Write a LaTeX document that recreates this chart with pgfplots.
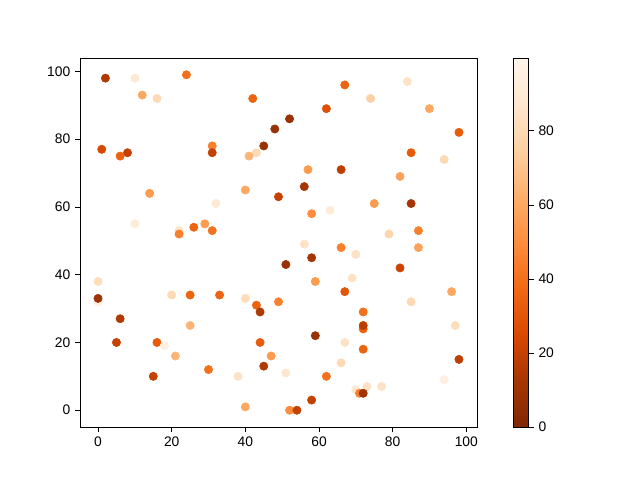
\documentclass[border=0pt]{standalone}
\usepackage{pgfplots}
\pgfplotsset{compat=1.18}
\usepackage{fontspec}
\setmainfont{Liberation Sans}
\pgfplotsset{
  colormap={orangesr}{rgb255=(127,39,4) rgb255=(166,54,3) rgb255=(217,72,1) rgb255=(241,105,19) rgb255=(253,141,60) rgb255=(253,174,107) rgb255=(253,208,162) rgb255=(254,230,206) rgb255=(255,245,235)}
}
\begin{document}
\begin{tikzpicture}
\path[use as bounding box] (0,0) rectangle (6.4in,4.8in);
\begin{axis}[
  at={(0.80in,0.53in)}, anchor=south west,
  scale only axis, width=3.97in, height=3.69in,
  xmin=-4.9, xmax=102.9, ymin=-4.95, ymax=103.95,
  xtick={0,20,...,100}, ytick={0,20,...,100},
  tick align=outside, xtick pos=bottom, ytick pos=left,
  major tick length=3.5pt,
  tick style={black, line width=0.6pt},
  axis line style={line width=0.6pt},
  ticklabel style={font=\fontsize{10}{12}\selectfont},
  /pgf/number format/assume math mode=true,
  colormap name=orangesr,
  point meta min=0, point meta max=99.7,
  colorbar,
  colorbar style={
    at={(parent axis.north east)}, anchor=north west, xshift=0.25in,
    scale only axis, width=0.15in, height=3.69in,
    ytick={0,20,...,80}, tick align=outside, ytick pos=right, yticklabel pos=right,
    major tick length=3.5pt,
    tick style={black, line width=0.6pt},
    axis line style={line width=0.6pt},
    ticklabel style={font=\fontsize{10}{12}\selectfont},
    /pgf/number format/assume math mode=true,
  },
]
\addplot[scatter, only marks, mark=*, mark size=3pt, scatter src=explicit,
  scatter/use mapped color={draw=mapped color, fill=mapped color}] table[meta=c] {
x y c
2 98 15
10 98 90
24 99 40
12 93 60
16 92 80
42 92 35
48 83 8
1 77 25
8 76 20
6 75 35
31 78 45
31 76 20
45 78 8
43 76 80
41 75 65
14 64 55
40 65 60
49 63 20
32 61 90
10 55 92
22 53 85
22 52 45
26 54 35
29 55 55
31 53 40
67 96 35
84 97 85
74 92 75
90 89 60
62 89 28
52 86 8
98 82 32
85 76 32
94 74 80
57 71 55
66 71 18
82 69 58
56 66 12
75 61 55
85 61 12
58 58 50
63 59 92
87 53 45
79 52 78
56 49 85
66 48 45
87 48 58
0 38 82
0 32 95
0 33 10
6 27 15
5 20 20
20 34 80
25 34 35
33 34 35
40 33 82
43 31 35
44 29 15
49 32 45
25 25 65
16 20 32
18 19 95
21 16 65
44 20 32
47 16 55
45 13 15
15 10 20
30 12 40
38 10 85
40 1 60
70 46 85
51 43 8
58 45 12
82 42 22
69 39 85
59 38 55
67 35 30
96 35 60
85 32 80
72 29 40
72 24 35
72 25 18
97 25 82
59 22 8
67 20 85
72 18 35
98 15 18
66 14 80
51 11 88
62 10 40
94 9 95
70 6 88
73 7 85
77 7 85
71 5 45
72 5 10
58 3 20
52 0 50
54 0 20
};
\end{axis}
\end{tikzpicture}
\end{document}
